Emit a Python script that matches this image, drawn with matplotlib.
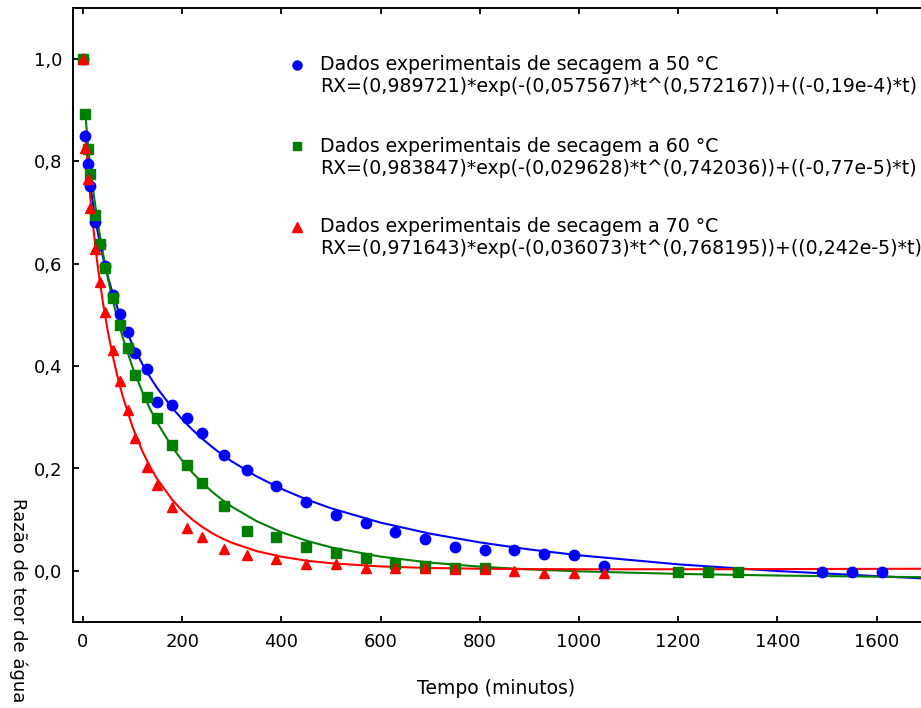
import matplotlib
matplotlib.use("Agg")
import matplotlib.pyplot as plt
from matplotlib.ticker import FuncFormatter

plt.rcParams["font.family"] = ["DejaVu Sans"]

# experimental points (minutes, moisture ratio)
t50 = [0, 5, 10, 15, 25, 35, 45, 60, 75, 90, 105, 130, 150, 180, 210, 240, 285,
       330, 390, 450, 510, 570, 630, 690, 750, 810, 870, 930, 990, 1050,
       1490, 1550, 1610]
rx50 = [1.0, 0.849, 0.796, 0.753, 0.681, 0.637, 0.595, 0.539, 0.502, 0.466,
        0.426, 0.394, 0.330, 0.325, 0.299, 0.270, 0.226, 0.198, 0.166, 0.134,
        0.110, 0.094, 0.075, 0.063, 0.047, 0.041, 0.041, 0.033, 0.031, 0.010,
        -0.002, -0.002, -0.002]

t60 = [0, 5, 10, 15, 25, 35, 45, 60, 75, 90, 105, 130, 150, 180, 210, 240, 285,
       330, 390, 450, 510, 570, 630, 690, 750, 810, 1200, 1260, 1320]
rx60 = [1.0, 0.892, 0.825, 0.776, 0.695, 0.638, 0.592, 0.534, 0.480, 0.435,
        0.383, 0.339, 0.299, 0.246, 0.206, 0.171, 0.126, 0.078, 0.067, 0.047,
        0.035, 0.026, 0.014, 0.010, 0.006, 0.006, -0.002, -0.002, -0.002]

t70 = [0, 5, 10, 15, 25, 35, 45, 60, 75, 90, 105, 130, 150, 180, 210, 240, 285,
       330, 390, 450, 510, 570, 630, 690, 750, 810, 870, 930, 990, 1050]
rx70 = [1.0, 0.827, 0.765, 0.709, 0.629, 0.565, 0.505, 0.431, 0.371, 0.315,
        0.259, 0.203, 0.167, 0.124, 0.083, 0.067, 0.043, 0.031, 0.023, 0.014,
        0.013, 0.006, 0.006, 0.006, 0.003, 0.003, -0.001, -0.005, -0.005, -0.005]

# fitted curves
t_fit = [5, 10, 15, 20, 30, 40, 50, 60, 70, 80, 100, 120, 135, 150, 180, 200,
         220, 240, 260, 280, 300, 350, 400, 450, 500, 600, 700, 800, 900, 1000,
         1200, 1400, 1700]
fit50 = [0.8564, 0.7981, 0.7544, 0.7186, 0.6608, 0.6147, 0.5759, 0.5425,
         0.5131, 0.4869, 0.4417, 0.4038, 0.3791, 0.3568, 0.3184, 0.2963,
         0.2765, 0.2586, 0.2424, 0.2276, 0.2140, 0.1846, 0.1603, 0.1398,
         0.1223, 0.0942, 0.0726, 0.0556, 0.0418, 0.0304, 0.0127, -0.0004,
         -0.0152]
fit60 = [0.8921, 0.8353, 0.7886, 0.7482, 0.6796, 0.6223, 0.5730, 0.5297,
         0.4914, 0.4570, 0.3979, 0.3489, 0.3172, 0.2892, 0.2419, 0.2157,
         0.1928, 0.1727, 0.1550, 0.1393, 0.1255, 0.0971, 0.0756, 0.0590,
         0.0460, 0.0278, 0.0160, 0.0082, 0.0028, -0.0010, -0.0060, -0.0092,
         -0.0125]
fit70 = [0.8582, 0.7864, 0.7279, 0.6778, 0.5941, 0.5261, 0.4690, 0.4206,
         0.3785, 0.3419, 0.2812, 0.2335, 0.2041, 0.1790, 0.1389, 0.1180,
         0.1006, 0.0861, 0.0739, 0.0637, 0.0550, 0.0386, 0.0276, 0.0200,
         0.0148, 0.0086, 0.0055, 0.0041, 0.0034, 0.0031, 0.0031, 0.0034,
         0.0041]

labels = ["Dados experimentais de secagem a 50 °C",
          "Dados experimentais de secagem a 60 °C",
          "Dados experimentais de secagem a 70 °C"]
equations = ["RX=(0,989721)*exp(-(0,057567)*t^(0,572167))+((-0,19e-4)*t)",
             "RX=(0,983847)*exp(-(0,029628)*t^(0,742036))+((-0,77e-5)*t)",
             "RX=(0,971643)*exp(-(0,036073)*t^(0,768195))+((0,242e-5)*t)"]

W, H = 921, 708
fig = plt.figure(figsize=(W / 100, H / 100), dpi=100)
ax = fig.add_axes([73 / W, 1 - 622 / H, (926.2 - 73) / W, 614 / H])

series = [
    (t50, rx50, fit50, "blue", "o", 7.5),
    (t60, rx60, fit60, "green", "s", 7),
    (t70, rx70, fit70, "red", "^", 7.5),
]
for t, rx, fit, c, m, ms in series:
    ax.plot(t_fit, fit, color=c, lw=1.5, zorder=2, solid_joinstyle="round")
for t, rx, fit, c, m, ms in series:
    ax.plot(t, rx, ls="none", marker=m, ms=ms, color=c, mec=c, zorder=3)

ax.set_xlim(-20, 1700)
ax.set_ylim(-0.1, 1.1)
ax.set_xticks(range(0, 1601, 200))
ax.set_yticks([0.0, 0.2, 0.4, 0.6, 0.8, 1.0])
ax.yaxis.set_major_formatter(FuncFormatter(lambda v, p: f"{v:.1f}".replace(".", ",")))
ax.tick_params(direction="in", length=4, width=1.3, labelsize=13, pad=8,
               top=True, right=False)
for s in ax.spines.values():
    s.set_linewidth(1.4)

# legend block
leg_rows = [65, 146, 227]
for (t, rx, fit, c, m, ms), y, lab, eq in zip(series, leg_rows, labels, equations):
    ax.plot([297 / W], [1 - y / H], ls="none", marker=m, ms=ms - 1, color=c,
            transform=fig.transFigure, clip_on=False)
    fig.text(320 / W, 1 - y / H, lab, fontsize=13.6, va="center", ha="left")
    fig.text(320 / W, 1 - (y + 22) / H, eq, fontsize=13.6, va="center", ha="left")

fig.text(496 / W, 1 - 688 / H, "Tempo (minutos)", fontsize=13.5, ha="center", va="center")
fig.text(18 / W, 1 - 498 / H, "Razão de teor de água", fontsize=13,
         rotation=270, ha="center", va="top")

fig.savefig("out.png", dpi=100)
